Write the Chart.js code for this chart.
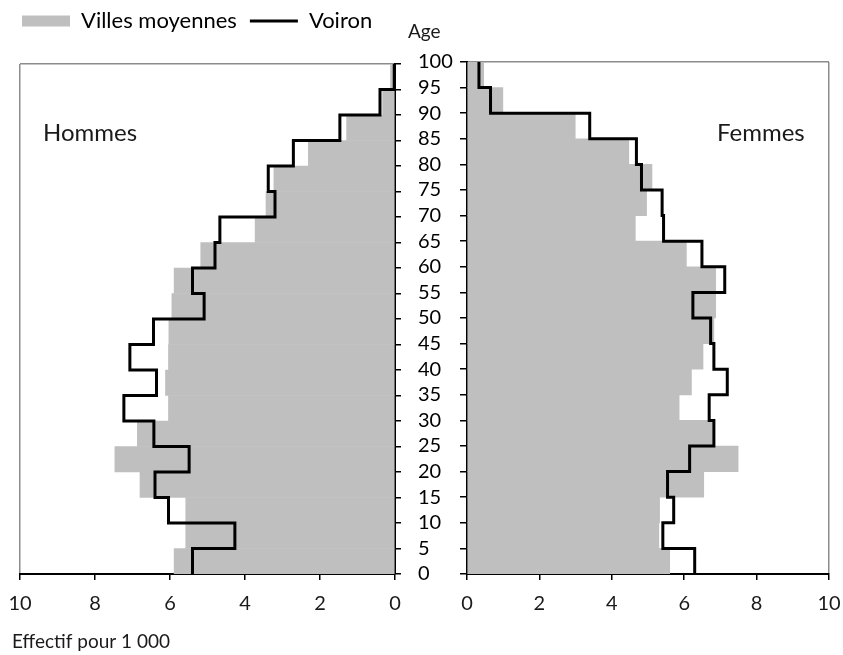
<!DOCTYPE html>
<html lang="fr">
<head>
<meta charset="utf-8">
<title>Pyramide des âges - Voiron</title>
<script src="https://cdn.jsdelivr.net/npm/chart.js@4.4.1/dist/chart.umd.min.js"></script>
<style>
  body { margin: 0; background: #fff; }
  #wrap { position: relative; width: 843px; height: 655px; }
  canvas { position: absolute; top: 0; }
  #hommes { left: 0; }
  #femmes { left: 402px; }
</style>
</head>
<body>
<div id="wrap">
  <canvas id="hommes" width="402" height="655"></canvas>
  <canvas id="femmes" width="441" height="655"></canvas>
</div>
<script>
// début de chaque tranche d'âge (tranches de 5 ans)
const ages = [0, 5, 10, 15, 20, 25, 30, 35, 40, 45, 50, 55, 60, 65, 70, 75, 80, 85, 90, 95];

// effectifs pour 1 000, de 0-4 ans à 95-99 ans
const hommesVilles = [5.89, 5.58, 5.58, 6.8, 7.47, 6.87, 6.04, 6.12, 6.04, 6.03,
                      5.95, 5.89, 5.18, 3.73, 3.44, 3.23, 2.31, 1.29, 0.33, 0.12];
const hommesVoiron = [5.4, 4.27, 6.04, 6.4, 5.49, 6.43, 7.23, 6.36, 7.07, 6.44,
                      5.09, 5.4, 4.8, 4.67, 3.2, 3.38, 2.71, 1.47, 0.4, 0.02];
const femmesVilles = [5.6, 5.3, 5.32, 6.54, 7.49, 6.78, 5.86, 6.2, 6.52, 6.82,
                      6.87, 6.87, 6.06, 4.65, 4.96, 5.11, 4.47, 2.99, 0.99, 0.46];
const femmesVoiron = [6.29, 5.41, 5.71, 5.54, 6.15, 6.82, 6.69, 7.19, 6.82, 6.73,
                      6.24, 7.12, 6.49, 5.43, 5.39, 4.82, 4.68, 3.39, 0.65, 0.33];

const seriesLabels = ["Villes moyennes", "Voiron"];

const FONT = 'Lato, "Open Sans", sans-serif';
const GRIS = "#bfbfbf";
const BORD = "#8c8c8c";
const TEXTE = "#1a1a1a";

Chart.defaults.font.family = FONT;
Chart.defaults.font.size = 20;
Chart.defaults.color = TEXTE;

// barres centrées sur le milieu de chaque tranche
function toBars(values) {
  return values.map((v, i) => ({ x: v, y: ages[i] + 2.5 }));
}

// escalier : un point en bas et un point en haut de chaque tranche
function toSteps(values) {
  let pts = [];
  values.forEach((v, i) => {
    pts.push({ x: v, y: ages[i] });
    pts.push({ x: v, y: ages[i] + 5 });
  });
  return pts;
}

// textes libres (Hommes, Femmes, Age...)
const textesPlugin = {
  id: "textes",
  afterDraw(chart, args, opts) {
    const ctx = chart.ctx;
    ctx.save();
    ctx.fillStyle = TEXTE;
    ctx.textBaseline = "alphabetic";
    (opts.items || []).forEach((t) => {
      ctx.font = `${t.size}px ${FONT}`;
      ctx.textAlign = "left";
      ctx.fillText(t.text, t.x, t.y);
    });
    ctx.restore();
  },
};

// seule la grille du bord extérieur reste visible (cadre gris)
const bordColor = (edge) => (c) => (c.tick && c.tick.value === edge ? BORD : "rgba(0,0,0,0)");

// graduations du bas : padding nul (sinon la zone de tracé rétrécit),
// le décalage vertical passe par la hauteur de ligne
const xTicks = { stepSize: 2, padding: 0, font: { size: 20, lineHeight: 2.4 } };

function datasets(villes, voiron) {
  return [
    {
      type: "bar",
      label: seriesLabels[0],
      data: toBars(villes),
      backgroundColor: GRIS,
      barPercentage: 1,
      categoryPercentage: 1,
      order: 1,
    },
    {
      type: "line",
      label: seriesLabels[1],
      indexAxis: "y",
      data: toSteps(voiron),
      borderColor: "#000",
      borderWidth: 3,
      borderJoinStyle: "miter",
      pointRadius: 0,
      order: 0,
    },
  ];
}

// ---- Hommes (axe inversé) ----
new Chart(document.getElementById("hommes"), {
  type: "bar",
  data: { datasets: datasets(hommesVilles, hommesVoiron) },
  options: {
    indexAxis: "y",
    responsive: false,
    animation: false,
    layout: { padding: { left: 20, top: 8, right: 0, bottom: 0 } },
    plugins: {
      tooltip: { enabled: false },
      legend: {
        position: "top",
        align: "start",
        labels: {
          usePointStyle: true,
          pointStyleWidth: 48,
          boxHeight: 11,
          padding: 2,
          color: TEXTE,
          font: { size: 22 },
          generateLabels: (chart) =>
            chart.data.datasets.map((ds, i) => ({
              text: i === 0 ? ds.label + "\u2002" : ds.label,
              datasetIndex: i,
              fillStyle: ds.type === "bar" ? GRIS : "#000",
              strokeStyle: ds.type === "bar" ? GRIS : "#000",
              lineWidth: ds.type === "bar" ? 0 : 3,
              pointStyle: ds.type === "bar" ? "rect" : "line",
              hidden: false,
            })),
        },
      },
      textes: {
        items: [
          { text: "Hommes", x: 43, y: 141, size: 24 },
          { text: "Effectif pour 1 000", x: 12, y: 648, size: 19 },
        ],
      },
    },
    scales: {
      x: {
        type: "linear",
        position: "bottom",
        reverse: true,
        min: 0,
        max: 10,
        ticks: xTicks,
        grid: { color: bordColor(10), tickColor: "#000", tickLength: 6, lineWidth: 1.5, tickWidth: 1.5 },
        border: { color: "#000", width: 2 },
        afterFit: (s) => { s.height = 81; },
      },
      y: {
        type: "linear",
        position: "right",
        min: 0,
        max: 100,
        offset: false,
        ticks: { stepSize: 5, display: false, autoSkip: false },
        grid: { offset: false, color: bordColor(100), tickColor: "#000", tickLength: 6, lineWidth: 1.5, tickWidth: 1.5 },
        border: { color: "#000", width: 2 },
        afterFit: (s) => { s.width = 7; },
      },
      // espace entre la légende et le graphique
      spacer: {
        type: "linear",
        position: "top",
        ticks: { display: false },
        grid: { display: false, drawTicks: false },
        border: { display: false },
        afterFit: (s) => { s.height = 22; },
      },
    },
  },
  plugins: [textesPlugin],
});

// ---- Femmes ----
new Chart(document.getElementById("femmes"), {
  type: "bar",
  data: { datasets: datasets(femmesVilles, femmesVoiron) },
  options: {
    indexAxis: "y",
    responsive: false,
    animation: false,
    layout: { padding: { left: 16, top: 62, right: 14, bottom: 0 } },
    plugins: {
      tooltip: { enabled: false },
      legend: { display: false },
      textes: {
        items: [
          { text: "Femmes", x: 315, y: 141, size: 24 },
          { text: "Age", x: 6, y: 38, size: 19 },
        ],
      },
    },
    scales: {
      x: {
        type: "linear",
        position: "bottom",
        min: 0,
        max: 10,
        ticks: xTicks,
        grid: { color: bordColor(10), tickColor: "#000", tickLength: 6, lineWidth: 1.5, tickWidth: 1.5 },
        border: { color: "#000", width: 2 },
        afterFit: (s) => { s.height = 81; },
      },
      y: {
        type: "linear",
        position: "left",
        min: 0,
        max: 100,
        offset: false,
        ticks: { stepSize: 5, crossAlign: "far", color: "#000", autoSkip: false },
        grid: { offset: false, color: bordColor(100), tickColor: "#000", tickLength: 7, lineWidth: 1.5, tickWidth: 1.5 },
        border: { color: "#000", width: 2 },
        afterFit: (s) => { s.width = 49; },
      },
    },
  },
  plugins: [textesPlugin],
});
</script>
</body>
</html>
